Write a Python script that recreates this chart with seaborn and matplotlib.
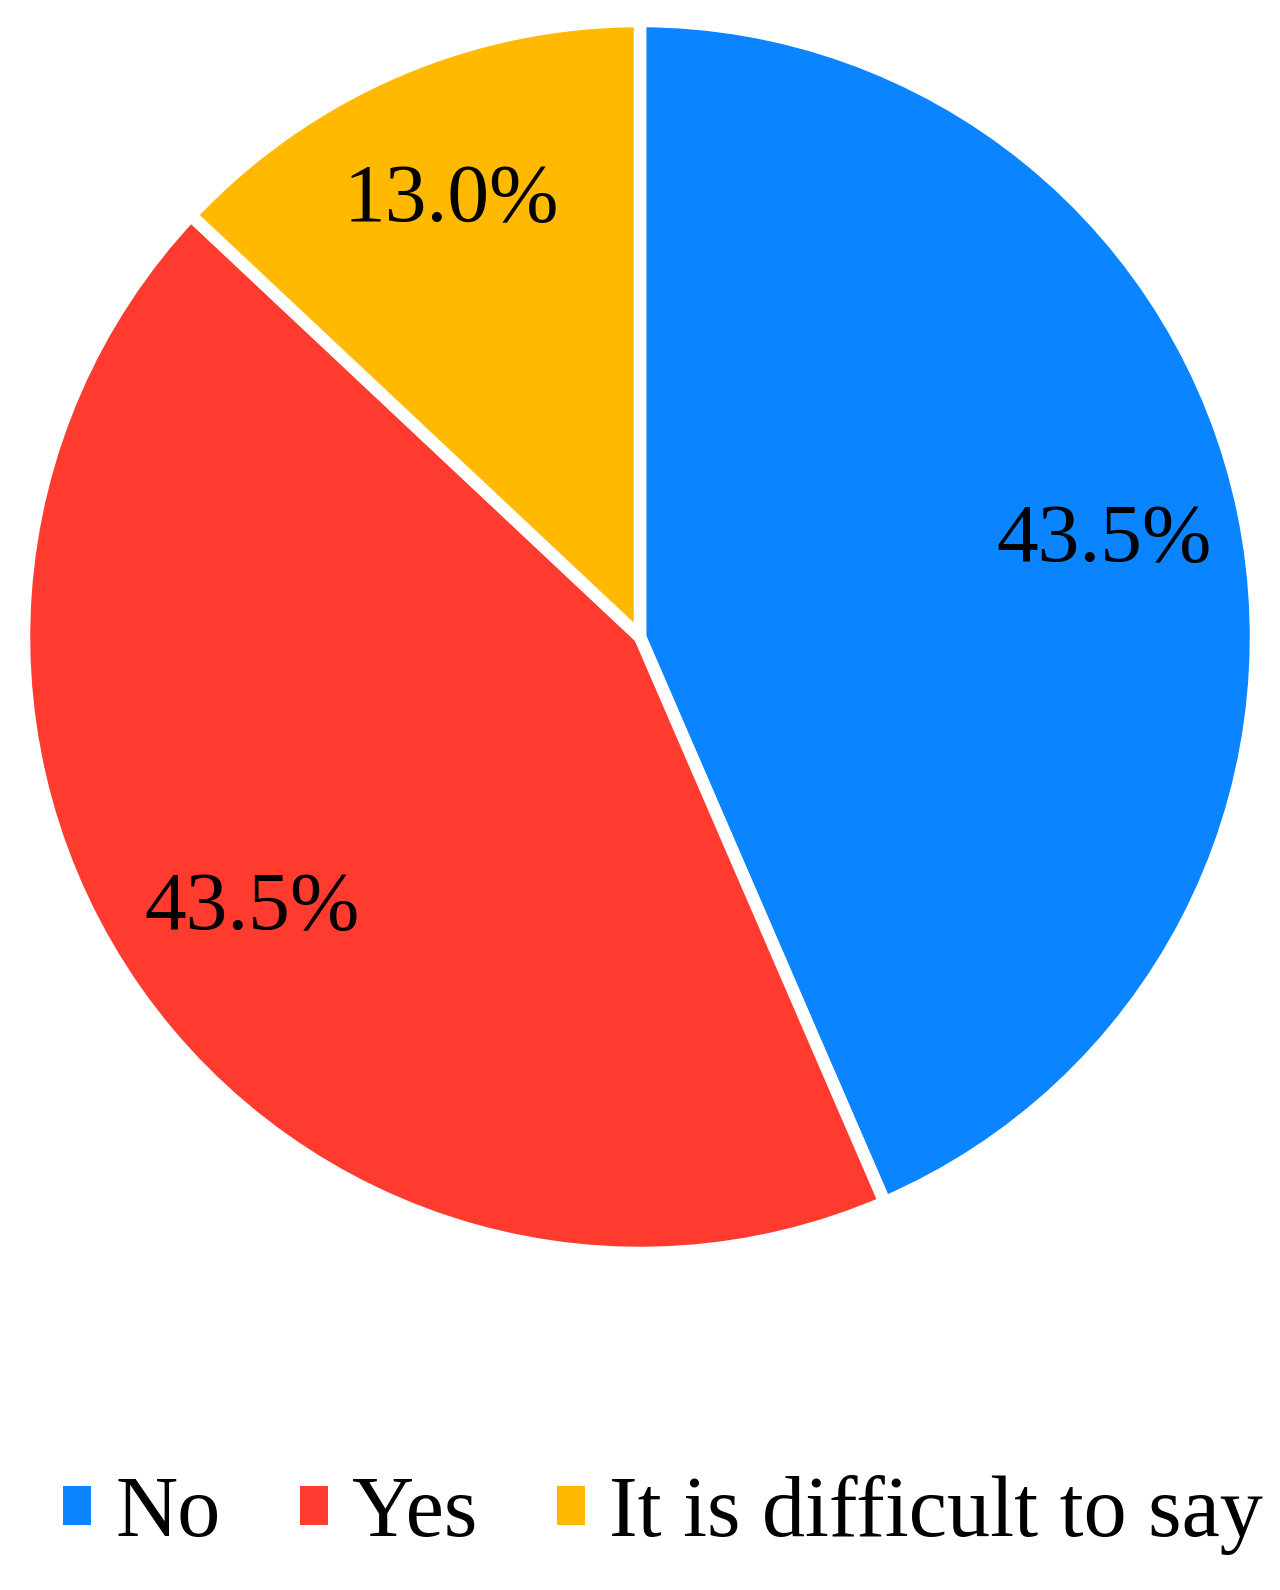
import matplotlib
matplotlib.use("Agg")
import matplotlib.pyplot as plt
import seaborn as sns
from matplotlib.patches import Patch

categories = ["No", "Yes", "It is difficult to say"]
values = [43.5, 43.5, 13.0]
colors = ["#0A84FF", "#FF3B30", "#FFB900"]

sns.set_theme(style="white")
plt.rcParams['font.family'] = ['Liberation Serif', 'DejaVu Serif']
plt.rcParams['text.color'] = 'black'

W, H = 1280, 1590
fig = plt.figure(figsize=(W / 100, H / 100), dpi=100)
cx, cy, r = 640, 637, 616
ax = fig.add_axes([(cx - r) / W, (H - cy - r) / H, 2 * r / W, 2 * r / H])

wedges, texts, autotexts = ax.pie(
    values, colors=colors, startangle=90, counterclock=False,
    autopct='%.1f%%', pctdistance=0.77,
    wedgeprops=dict(edgecolor='white', linewidth=9),
    textprops=dict(fontsize=60, color='black'),
)
ax.set_xlim(-1, 1)
ax.set_ylim(-1, 1)
ax.set_aspect('equal')
ax.axis('off')

handles = [Patch(facecolor=c, edgecolor='none') for c in colors]
leg = fig.legend(handles, categories, loc='center', bbox_to_anchor=(0.518, 0.047),
                 ncol=3, frameon=False, fontsize=62, handlelength=0.33,
                 handleheight=0.33, handletextpad=0.28, columnspacing=0.92,
                 borderpad=0, borderaxespad=0, labelcolor='black')

fig.savefig("out.png", dpi=100, facecolor='white')
